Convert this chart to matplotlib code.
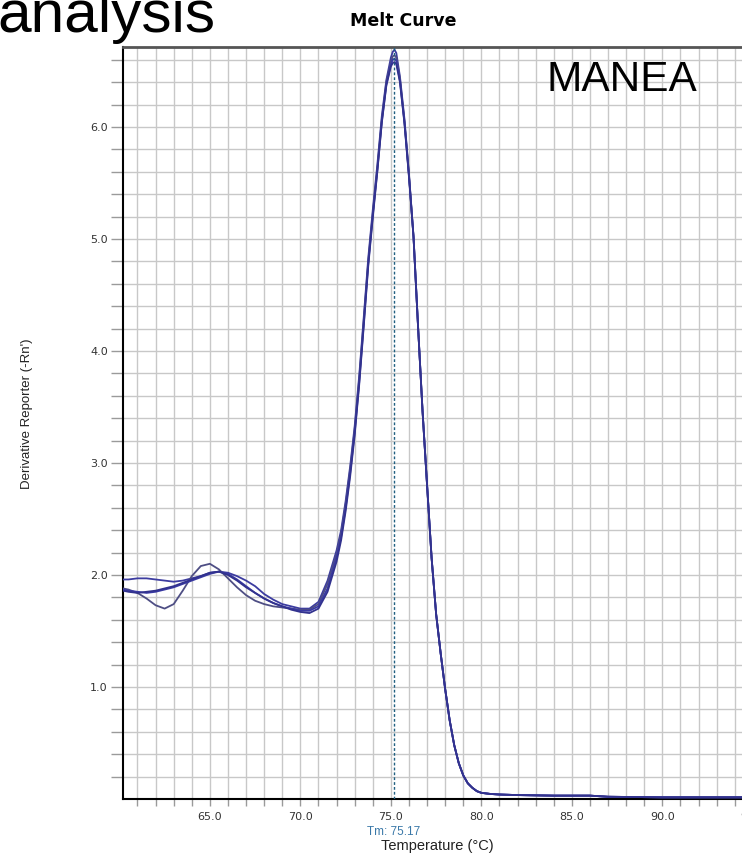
import numpy as np
import matplotlib
matplotlib.use("Agg")
import matplotlib.pyplot as plt

# ---------------- data ----------------
temps_low = [60.2, 60.5, 61.0, 61.5, 62.0, 62.5, 63.0, 63.5, 64.0, 64.5, 65.0, 65.5,
             66.0, 66.5, 67.0, 67.5, 68.0, 68.5, 69.0, 69.5, 70.0, 70.5, 71.0, 71.5, 72.0]
temps_peak = [72.25, 72.5, 72.75, 73.0, 73.25, 73.5, 73.75, 74.0, 74.25, 74.5, 74.75,
              75.0, 75.1, 75.2, 75.3, 75.5, 75.75, 76.0]
temps_tail = [76.25, 76.5, 76.75, 77.0, 77.25, 77.5, 77.75, 78.0, 78.25, 78.5, 78.75,
              79.0, 79.25, 79.5, 79.75, 80.0, 80.5, 81.0, 82.0, 84.0, 86.0, 87.0, 90.0, 95.0]

low_a = [1.96, 1.96, 1.97, 1.97, 1.96, 1.95, 1.94, 1.95, 1.97, 1.99, 2.02, 2.03,
         2.02, 1.99, 1.95, 1.90, 1.83, 1.78, 1.74, 1.72, 1.70, 1.70, 1.76, 1.95, 2.22]
low_b = [1.88, 1.87, 1.84, 1.79, 1.73, 1.70, 1.74, 1.86, 1.99, 2.08, 2.10, 2.05,
         1.97, 1.89, 1.82, 1.77, 1.74, 1.72, 1.71, 1.70, 1.69, 1.69, 1.74, 1.92, 2.19]
low_c = [1.87, 1.86, 1.85, 1.84, 1.85, 1.87, 1.89, 1.92, 1.95, 1.98, 2.01, 2.03,
         2.01, 1.96, 1.90, 1.84, 1.79, 1.75, 1.72, 1.70, 1.68, 1.68, 1.72, 1.88, 2.16]
low_d = [1.86, 1.85, 1.84, 1.85, 1.86, 1.88, 1.90, 1.93, 1.96, 1.99, 2.02, 2.03,
         2.00, 1.95, 1.89, 1.84, 1.79, 1.75, 1.72, 1.69, 1.67, 1.66, 1.70, 1.85, 2.12]

peak_a = [2.40, 2.66, 2.97, 3.33, 3.78, 4.30, 4.83, 5.26, 5.66, 6.10, 6.42, 6.62,
          6.67, 6.69, 6.66, 6.45, 6.07, 5.58]
peak_b = [2.37, 2.63, 2.94, 3.30, 3.75, 4.27, 4.80, 5.23, 5.63, 6.07, 6.40, 6.58,
          6.63, 6.64, 6.62, 6.43, 6.05, 5.57]
peak_c = [2.34, 2.60, 2.91, 3.27, 3.72, 4.24, 4.78, 5.21, 5.61, 6.05, 6.38, 6.56,
          6.60, 6.61, 6.59, 6.41, 6.04, 5.56]
peak_d = [2.31, 2.57, 2.88, 3.25, 3.70, 4.22, 4.76, 5.19, 5.60, 6.04, 6.37, 6.54,
          6.57, 6.58, 6.56, 6.40, 6.03, 5.55]

tail = [5.02, 4.22, 3.46, 2.80, 2.15, 1.65, 1.30, 0.98, 0.70, 0.48, 0.32, 0.21,
        0.14, 0.10, 0.07, 0.055, 0.045, 0.04, 0.035, 0.03, 0.03, 0.02, 0.015, 0.015]

tm = 75.17
xtick_vals = [65, 70, 75, 80, 85, 90, 95]
ytick_vals = [1, 2, 3, 4, 5, 6]

# ---------------- figure ----------------
W, H = 742, 855
fig = plt.figure(figsize=(W / 100, H / 100), dpi=100)
ax = fig.add_axes([123 / W, 56 / H, 648 / W, 752 / H])

temps = np.array(temps_low + temps_peak + temps_tail)
curves = [(low_a, peak_a, '#3c3ca0'), (low_b, peak_b, '#4e4e84'),
          (low_c, peak_c, '#3a3aa4'), (low_d, peak_d, '#32328e')]
for low, peak, col in curves:
    ax.plot(temps, np.array(low + peak + tail), color=col, lw=1.3, zorder=3)

ax.axvline(tm, color='#1f5f80', lw=1.0, ls=(0, (2, 1.5)), zorder=4)

ax.set_xlim(60.2, 96)
ax.set_ylim(0, 6.714)
ax.set_xticks(xtick_vals)
ax.set_xticklabels([f'{v:.1f}' for v in xtick_vals])
ax.set_xticks(np.arange(61, 96, 1), minor=True)
ax.set_yticks(ytick_vals)
ax.set_yticklabels([f'{v:.1f}' for v in ytick_vals])
ax.set_yticks(np.arange(0.2, 6.7, 0.2), minor=True)

ax.grid(which='both', color='#c8c8c8', lw=1.0, zorder=0)
ax.set_axisbelow(True)

ax.tick_params(axis='x', which='both', direction='out', length=5, width=1,
               color='#9a9a9a', pad=4, labelsize=8, labelcolor='#333333')
ax.tick_params(axis='y', which='both', direction='out', length=9, width=1,
               color='#9a9a9a', pad=2, labelsize=8, labelcolor='#333333')

for side in ['left', 'bottom']:
    ax.spines[side].set_color('black')
    ax.spines[side].set_linewidth(1.5)
ax.spines['top'].set_color('#555555')
ax.spines['top'].set_linewidth(2)
ax.spines['right'].set_visible(False)

# ---------------- texts ----------------
fig.text(403 / W, 1 - 21 / H, 'Melt Curve', ha='center', va='center',
         fontsize=12.5, fontweight='bold', family='DejaVu Sans')
fig.text(-0.004, 1 - 32 / H, 'analysis', ha='left', va='baseline',
         fontsize=43.5, family='Liberation Sans')
fig.text(622 / W, 1 - 80 / H, 'MANEA', ha='center', va='center',
         fontsize=30.5, family='Liberation Sans')
fig.text(394 / W, 1 - 832 / H, 'Tm: 75.17', ha='center', va='center',
         fontsize=8.5, color='#3a78a8', family='Liberation Sans')
fig.text(437 / W, 1 - 846 / H, 'Temperature (°C)', ha='center', va='center',
         fontsize=10.5, color='#222222', family='Liberation Sans')
fig.text(27 / W, 1 - 414 / H, "Derivative Reporter (-Rn')", ha='center', va='center',
         rotation=90, fontsize=9.5, color='#222222', family='Liberation Sans')

fig.savefig('out.png', dpi=100)
